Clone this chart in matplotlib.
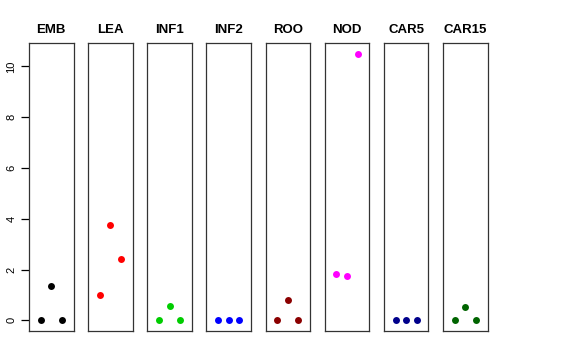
import numpy as np
import matplotlib
matplotlib.use("Agg")
import matplotlib.pyplot as plt

plt.rcParams['font.family'] = ['Liberation Sans', 'DejaVu Sans']

# tissues and their three replicate values
tissues = ["EMB", "LEA", "INF1", "INF2", "ROO", "NOD", "CAR5", "CAR15"]
values = [
    [0.0, 1.35, 0.0],
    [0.99, 3.75, 2.41],
    [0.0, 0.55, 0.0],
    [0.0, 0.0, 0.0],
    [0.0, 0.79, 0.0],
    [1.82, 1.74, 10.5],
    [0.0, 0.0, 0.0],
    [0.0, 0.51, 0.0],
]
colors = ["black", "red", "#00CD00", "blue", "#8B0000", "magenta", "#00008B", "#006400"]
yticks = [0, 2, 4, 6, 8, 10]

W, H = 576, 360
fig = plt.figure(figsize=(W / 100, H / 100), dpi=100)

ymax = max(max(v) for v in values)
ymin = 0.0
pad = (ymax - ymin) * 0.04

left0, step, pw = 29, 59.15, 44.5
top, bottom = 43, 331

for i, (name, vals, col) in enumerate(zip(tissues, values, colors)):
    left = left0 + i * step
    ax = fig.add_axes([left / W, (H - bottom) / H, pw / W, (bottom - top) / H])
    x = np.arange(1, len(vals) + 1)
    ax.plot(x, vals, 'o', color=col, markersize=5, markeredgewidth=0)
    ax.set_xlim(-0.1, 4.1)
    ax.set_ylim(ymin - pad, ymax + pad)
    ax.set_xticks([])
    for s in ax.spines.values():
        s.set_linewidth(0.9)
        s.set_color("#333333")
    ax.set_title(name, fontsize=9.5, fontweight='bold', pad=7)
    if i == 0:
        ax.set_yticks(yticks)
        ax.set_yticklabels([str(t) for t in yticks], rotation=90, va='center', fontsize=8)
        ax.tick_params(axis='y', length=6, width=0.9, pad=3)
    else:
        ax.set_yticks([])

fig.savefig("out.png", dpi=100)
